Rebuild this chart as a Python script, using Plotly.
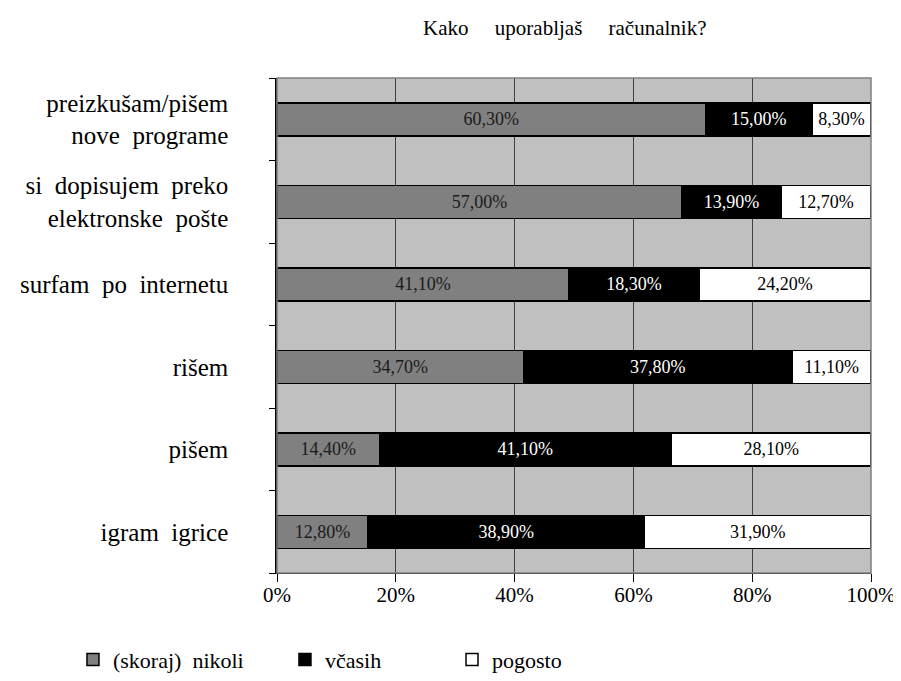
import plotly.graph_objects as go

NB = "\u00a0"

# categories listed bottom-to-top
categories = [
    "igram" + NB + " igrice",
    "pišem",
    "rišem",
    "surfam" + NB + " po" + NB + " internetu",
    "si" + NB + " dopisujem" + NB + " preko<br>elektronske" + NB + " pošte",
    "preizkušam/pišem<br>nove" + NB + " programe",
]
nikoli = [12.8, 14.4, 34.7, 41.1, 57.0, 60.3]
vcasih = [38.9, 41.1, 37.8, 18.3, 13.9, 15.0]
pogosto = [31.9, 28.1, 11.1, 24.2, 12.7, 8.3]

series_names = ["(skoraj)" + NB + " nikoli", "včasih", "pogosto"]
x_ticks = [0, 20, 40, 60, 80, 100]

FONT = "Liberation Serif"


def pct_text(values):
    return [f"{v:.2f}".replace(".", ",") + "%" for v in values]


fig = go.Figure()

series = [
    (series_names[0], nikoli, "#808080", "#1a1a1a", "legend"),
    (series_names[1], vcasih, "#000000", "#ffffff", "legend2"),
    (series_names[2], pogosto, "#ffffff", "#000000", "legend3"),
]

for name, values, color, text_color, legend in series:
    fig.add_trace(
        go.Bar(
            name=name,
            y=categories,
            x=values,
            orientation="h",
            marker=dict(color=color, line=dict(color="#000000", width=1.5)),
            text=pct_text(values),
            textposition="inside",
            insidetextanchor="middle",
            textangle=0,
            textfont=dict(family=FONT, size=18, color=text_color),
            legend=legend,
            hoverinfo="skip",
        )
    )

legend_common = dict(
    orientation="h",
    xref="container",
    yref="container",
    y=0.043,
    yanchor="middle",
    xanchor="left",
    bgcolor="rgba(0,0,0,0)",
    font=dict(family=FONT, size=22, color="#000000"),
    itemwidth=30,
)

gap = NB * 4 + " "

fig.update_layout(
    barmode="stack",
    barnorm="percent",
    bargap=0.6,
    width=901,
    height=681,
    margin=dict(l=269, r=38, t=70, b=116),
    paper_bgcolor="white",
    plot_bgcolor="#C0C0C0",
    font=dict(family=FONT, size=20, color="#000000"),
    title=dict(
        text="Kako" + gap + "uporabljaš" + gap + "računalnik?",
        x=0.618,
        xanchor="center",
        y=0.9706,
        yanchor="middle",
        font=dict(family=FONT, size=21, color="#000000"),
    ),
    uniformtext=dict(minsize=18, mode="show"),
    legend=dict(x=0.0721, **legend_common),
    legend2=dict(x=0.3074, **legend_common),
    legend3=dict(x=0.4928, **legend_common),
    showlegend=True,
)

fig.update_xaxes(
    range=[0, 100],
    tickvals=x_ticks,
    ticktext=[f"{t}%" for t in x_ticks],
    ticks="outside",
    ticklen=8,
    tickcolor="#000000",
    showgrid=True,
    gridcolor="#404040",
    gridwidth=1,
    showline=True,
    linecolor="#000000",
    linewidth=1,
    zeroline=False,
    automargin=False,
    tickfont=dict(family=FONT, size=21),
    ticklabelstandoff=-5,
)

fig.update_yaxes(
    categoryorder="array",
    categoryarray=categories,
    ticks="outside",
    tickson="boundaries",
    ticklen=6,
    tickcolor="#000000",
    showline=True,
    linecolor="#000000",
    linewidth=1.5,
    showgrid=False,
    automargin=False,
    tickfont=dict(family=FONT, size=25),
    ticklabelstandoff=42,
)

# grey frame on top and right edges of plot area
fig.add_shape(
    type="rect", xref="paper", yref="paper", x0=0, x1=1, y0=0, y1=1,
    line=dict(color="#808080", width=1.5), layer="above",
)

fig.write_html("out.html")
